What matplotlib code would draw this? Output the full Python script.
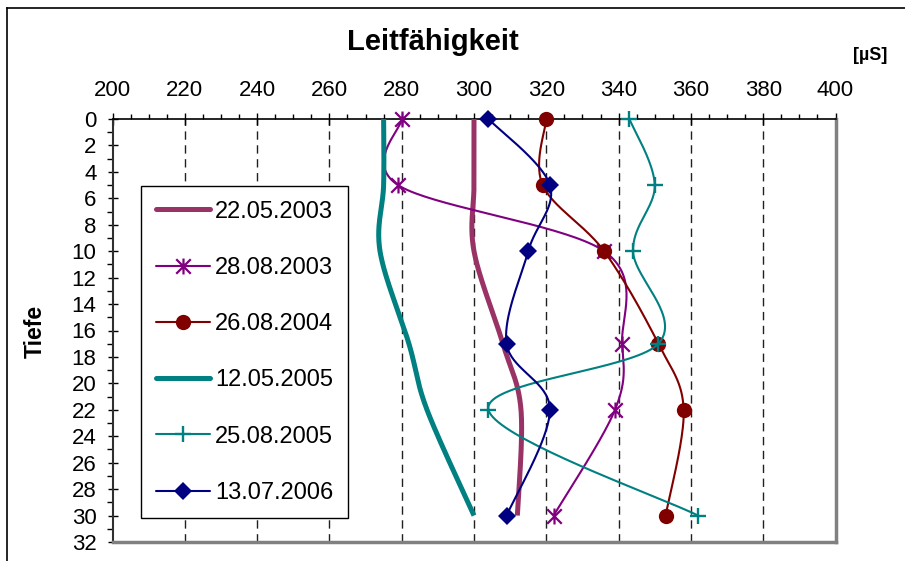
import numpy as np
import matplotlib
matplotlib.use("Agg")
import matplotlib.pyplot as plt
from matplotlib.path import Path
from matplotlib.lines import Line2D
from matplotlib.ticker import MultipleLocator

plt.rcParams['font.family'] = ['Liberation Sans', 'DejaVu Sans']

# ---- data ----
depths = [0, 5, 10, 17, 22, 30]
labels = ["22.05.2003", "28.08.2003", "26.08.2004", "12.05.2005", "25.08.2005", "13.07.2006"]
s_2003_05 = [300, 300, 300, 308, 313, 312]
s_2003_08 = [280, 279, 336, 341, 339, 322]
s_2004_08 = [320, 319, 336, 351, 358, 353]
s_2005_05 = [275, 275, 274, 282, 287, 300]
s_2005_08 = [343, 350, 344, 351, 304, 362]
s_2006_07 = [304, 321, 315, 309, 321, 309]
x_ticks = [200, 220, 240, 260, 280, 300, 320, 340, 360, 380, 400]
y_ticks = list(range(0, 33, 2))

W, H = 905, 561
fig = plt.figure(figsize=(W / 100, H / 100), dpi=100)
ax = fig.add_axes([112.5 / W, 1 - 542 / H, (835.5 - 112.5) / W, (542 - 119) / H])


def smooth(xs, ys, n=40):
    P = np.column_stack([xs, ys]).astype(float)
    out = []
    for i in range(len(P) - 1):
        p0 = P[i - 1] if i > 0 else P[i]
        p1 = P[i]
        p2 = P[i + 1]
        p3 = P[i + 2] if i + 2 < len(P) else P[i + 1]
        c1 = p1 + (p2 - p0) / 6
        c2 = p2 - (p3 - p1) / 6
        t = np.linspace(0, 1, n)[:, None]
        seg = (1 - t) ** 3 * p1 + 3 * (1 - t) ** 2 * t * c1 + 3 * (1 - t) * t ** 2 * c2 + t ** 3 * p2
        out.append(seg if i == 0 else seg[1:])
    return np.vstack(out)


star = Path([(-1, -1), (1, 1), (-1, 1), (1, -1), (0, -1.1), (0, 1.1)],
            [Path.MOVETO, Path.LINETO, Path.MOVETO, Path.LINETO, Path.MOVETO, Path.LINETO])

styles = [
    dict(color='#993366', lw=3.6, marker=None, ms=0, mew=0),
    dict(color='#800080', lw=1.5, marker=star, ms=11.5, mew=1.6),
    dict(color='#800000', lw=1.5, marker='o', ms=11, mew=0),
    dict(color='#008080', lw=3.6, marker=None, ms=0, mew=0),
    dict(color='#008080', lw=1.5, marker='+', ms=12, mew=1.7),
    dict(color='#000080', lw=1.5, marker='D', ms=9.5, mew=0),
]
series = [s_2003_05, s_2003_08, s_2004_08, s_2005_05, s_2005_08, s_2006_07]

handles = []
for i, (vals, st, lab) in enumerate(zip(series, styles, labels)):
    c = smooth(vals, depths)
    ax.plot(c[:, 0], c[:, 1], color=st['color'], lw=st['lw'], zorder=3 + i,
            solid_capstyle='butt')
    if st['marker'] is not None:
        ax.plot(vals, depths, ls='none', marker=st['marker'], ms=st['ms'],
                mfc=st['color'], mec=st['color'], mew=st['mew'], zorder=3 + i,
                clip_on=False)
    handles.append(Line2D([], [], color=st['color'], lw=st['lw'],
                          marker=st['marker'], ms=st['ms'], mfc=st['color'],
                          mec=st['color'], mew=st['mew'], solid_capstyle='round'))

ax.set_xlim(200, 400)
ax.set_ylim(32, 0)
ax.xaxis.tick_top()
ax.xaxis.set_label_position('top')
ax.set_xticks(x_ticks)
ax.set_yticks(y_ticks)
ax.xaxis.set_minor_locator(MultipleLocator(5))
ax.yaxis.set_minor_locator(MultipleLocator(1))
ax.tick_params(axis='x', which='major', direction='inout', length=8, width=1,
               labelsize=16, pad=9, colors='black')
ax.tick_params(axis='x', which='minor', direction='out', length=3.5, width=1)
ax.tick_params(axis='y', which='major', direction='inout', length=7, width=1,
               labelsize=16, pad=8)
ax.tick_params(axis='y', which='minor', direction='out', length=4, width=1)

for xv in x_ticks[1:-1]:
    ax.axvline(xv, color='#202020', lw=1, dashes=(6, 4), zorder=1)

ax.spines['top'].set_color('black')
ax.spines['top'].set_linewidth(1.2)
ax.spines['left'].set_color('#303030')
ax.spines['left'].set_linewidth(1.5)
ax.spines['right'].set_color('#808080')
ax.spines['right'].set_linewidth(2.5)
ax.spines['bottom'].set_color('#808080')
ax.spines['bottom'].set_linewidth(2.5)

leg = ax.legend(handles, labels, loc='upper left',
                bbox_to_anchor=(141 / W, 1 - 186 / H), bbox_transform=fig.transFigure,
                borderaxespad=0, fontsize=17, frameon=True, fancybox=False,
                edgecolor='black', framealpha=1, handlelength=2.3,
                handletextpad=0.22, labelspacing=1.45, borderpad=0.62)
leg.get_frame().set_linewidth(1.0)
leg.set_zorder(20)

fig.text(432.5 / W, 1 - 42 / H, "Leitfähigkeit", ha='center', va='center',
         fontsize=21, fontweight='bold')
fig.text(870 / W, 1 - 55 / H, "[µS]", ha='center', va='center',
         fontsize=13, fontweight='bold')
fig.text(35 / W, 1 - 331 / H, "Tiefe", ha='center', va='center',
         fontsize=16.5, fontweight='bold', rotation=90)

# outer frame (left and top edges visible)
fig.add_artist(Line2D([7 / W, 7 / W], [0, 1 - 8 / H], transform=fig.transFigure,
                      color='black', lw=1.2))
fig.add_artist(Line2D([7 / W, 1], [1 - 8 / H, 1 - 8 / H], transform=fig.transFigure,
                      color='black', lw=1.2))

fig.savefig("out.png", dpi=100)
